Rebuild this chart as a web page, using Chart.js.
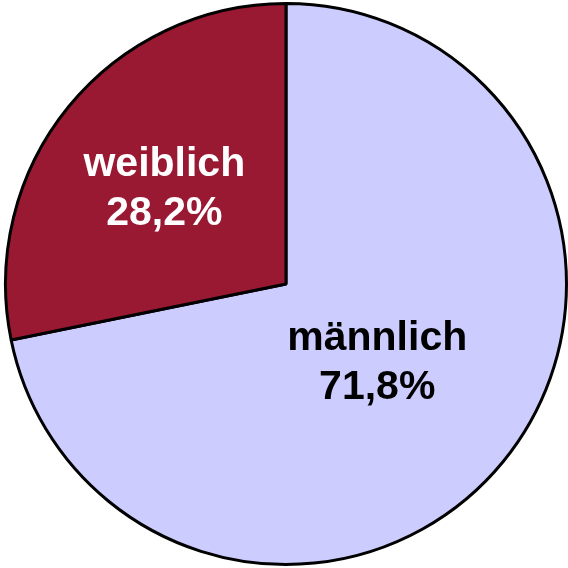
<!DOCTYPE html>
<html>
<head>
<meta charset="utf-8">
<script src="https://cdn.jsdelivr.net/npm/chart.js@4/dist/chart.umd.min.js"></script>
<style>
  html, body { margin: 0; padding: 0; background: #fff; }
  canvas { display: block; }
</style>
</head>
<body>
<canvas id="pieChart" width="568" height="568"></canvas>
<script>
// Geschlechterverteilung
const labels = ['männlich', 'weiblich'];
const values = [71.8, 28.2];
const sliceColors = ['#CCCCFF', '#991933'];
const textColors = ['#000000', '#FFFFFF'];
const labelRadius = [0.42, 0.56];

// Beschriftung innerhalb der Segmente
const sliceLabels = {
    id: 'sliceLabels',
    afterDatasetsDraw(chart) {
        const ctx = chart.ctx;
        const meta = chart.getDatasetMeta(0);
        ctx.save();
        ctx.font = 'bold 41px "Liberation Sans", Arial, sans-serif';
        ctx.textAlign = 'center';
        ctx.textBaseline = 'middle';
        meta.data.forEach(function(arc, i) {
            const mid = (arc.startAngle + arc.endAngle) / 2;
            const r = arc.outerRadius * labelRadius[i];
            const x = arc.x + Math.cos(mid) * r;
            const y = arc.y + Math.sin(mid) * r + 4;
            const pct = values[i].toLocaleString('de-DE', { minimumFractionDigits: 1 }) + '%';
            ctx.fillStyle = textColors[i];
            ctx.fillText(labels[i], x, y - 24);
            ctx.fillText(pct, x, y + 25);
        });
        ctx.restore();
    }
};

new Chart(document.getElementById('pieChart').getContext('2d'), {
    type: 'pie',
    data: {
        labels: labels,
        datasets: [{
            data: values,
            backgroundColor: sliceColors,
            borderColor: '#000000',
            borderWidth: 3,
            borderAlign: 'center'
        }]
    },
    options: {
        responsive: false,
        animation: false,
        layout: { padding: { left: 4, right: 0, top: 1, bottom: 1 } },
        plugins: {
            legend: { display: false },
            tooltip: { enabled: false }
        }
    },
    plugins: [sliceLabels]
});
</script>
</body>
</html>
